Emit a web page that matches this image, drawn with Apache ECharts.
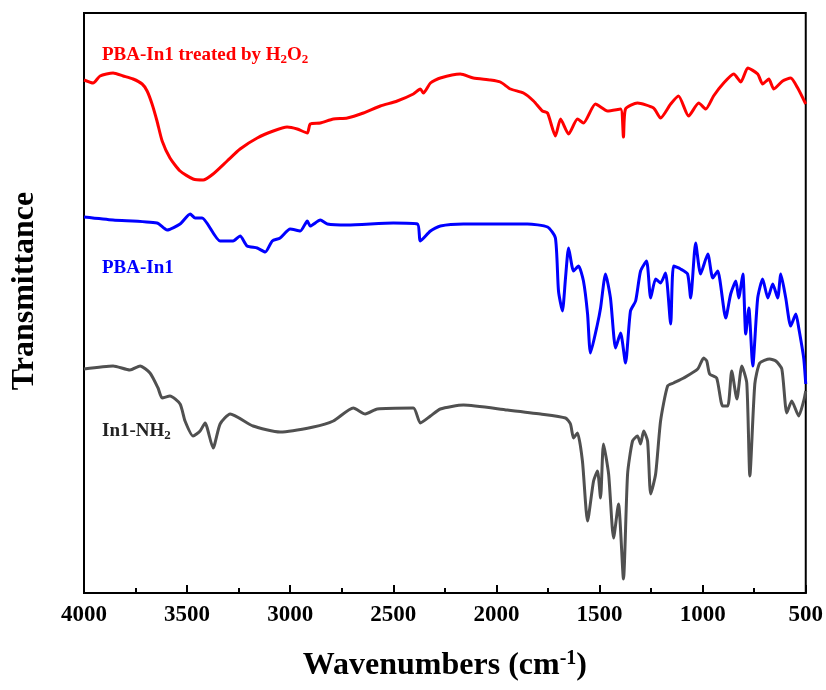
<!DOCTYPE html>
<html>
<head>
<meta charset="utf-8">
<script src="https://cdn.jsdelivr.net/npm/echarts@6/dist/echarts.min.js"></script>
<style>
html,body{margin:0;padding:0;background:#fff;}
#c{width:826px;height:690px;}
</style>
</head>
<body>
<div id="c"></div>
<script>
// Wavenumber ticks
var xTicks = [4000, 3500, 3000, 2500, 2000, 1500, 1000, 500];

// PBA-In1 treated by H2O2 (red)
var redWave = [4000,3956,3922,3859,3810,3762,3718,3694,3670,3646,3621,3583,3534,3471,3422,3374,3306,3243,3160,3082,3015,2966,2917,2903,2854,2791,2723,2645,2563,2481,2403,2369,2354,2320,2272,2175,2112,2029,1981,1932,1869,1820,1777,1752,1714,1689,1650,1607,1578,1520,1461,1398,1384,1374,1316,1238,1204,1155,1117,1068,1019,985,947,898,849,815,781,733,709,679,655,612,573,539,500];
var redT = [513,510,517,520,517,514,509,502,489,472,452,435,422,414,413,419,432,444,455,462,466,464,460,469,470,474,475,480,487,492,499,504,500,510,515,519,515,513,511,504,500,492,482,480,457,474,459,474,470,489,482,484,456,484,490,485,475,489,497,477,490,484,497,510,519,511,525,519,509,514,504,512,515,505,489];

// PBA-In1 (blue)
var blueWave = [4000,3859,3646,3597,3534,3485,3461,3427,3340,3277,3243,3209,3160,3121,3087,3049,3000,2951,2917,2903,2854,2820,2723,2500,2383,2369,2320,2272,2160,1995,1850,1752,1714,1699,1680,1665,1650,1626,1602,1578,1558,1544,1510,1495,1471,1447,1422,1398,1374,1350,1325,1301,1272,1252,1228,1204,1180,1155,1141,1107,1073,1058,1034,1010,975,951,927,888,864,839,825,805,791,776,757,733,709,684,660,636,621,597,573,548,534,510,500];
var blueT = [376,373,370,363,369,379,375,375,352,352,357,347,345,341,352,355,364,362,372,367,373,369,368,370,369,352,362,367,369,369,369,366,355,302,282,315,345,322,327,312,279,240,269,285,319,295,245,260,230,282,292,322,332,295,314,310,320,269,327,324,319,295,350,319,339,315,322,275,299,312,295,319,259,285,227,295,314,295,309,295,319,295,267,279,265,235,209];

// In1-NH2 (gray)
var grayWave = [4000,3859,3777,3728,3680,3641,3621,3583,3534,3510,3471,3437,3413,3374,3340,3291,3180,3049,2888,2791,2694,2636,2578,2403,2369,2320,2272,2160,1947,1786,1665,1641,1626,1607,1583,1558,1529,1510,1495,1481,1456,1432,1408,1384,1364,1340,1316,1301,1286,1267,1252,1228,1204,1170,1141,1092,1024,995,980,966,932,903,878,859,834,810,786,771,747,723,675,645,616,592,568,534,510,500];
var grayT = [224,227,223,227,220,205,195,197,189,172,157,162,170,145,169,179,167,161,166,172,185,179,184,185,170,177,184,188,183,179,175,169,155,160,132,72,112,122,95,149,119,55,89,14,119,152,157,149,162,152,99,119,172,207,210,215,224,235,232,219,215,187,187,222,194,227,210,117,209,230,234,232,224,180,192,177,192,202];

function pairs(w, t) { return w.map(function (v, i) { return [v, t[i]]; }); }

var serif = '"Liberation Serif","Times New Roman",serif';
var chart = echarts.init(document.getElementById('c'), null, {renderer: 'canvas'});

function lbl(color, top, parts) {
  return {
    text: parts, left: 97, top: top,
    textStyle: {
      rich: {
        a: {fontFamily: serif, fontWeight: 'bold', fontSize: 19, color: color, lineHeight: 24},
        s: {fontFamily: serif, fontWeight: 'bold', fontSize: 13, color: color, lineHeight: 24, padding: [9, 0, 0, 0]}
      }
    }
  };
}

chart.setOption({
  animation: false,
  backgroundColor: '#fff',
  title: [
    lbl('#ff0000', 38, '{a|PBA-In1 treated by H}{s|2}{a|O}{s|2}'),
    lbl('#0000ff', 251, '{a|PBA-In1}'),
    lbl('#222222', 414, '{a|In1-NH}{s|2}')
  ],
  grid: {left: 84, right: 20, top: 13, bottom: 97, show: true, borderColor: '#000', borderWidth: 2, backgroundColor: 'transparent'},
  xAxis: {
    type: 'value', min: 500, max: 4000, interval: 500, inverse: true,
    name: 'Wavenumbers (cm{sup|-1})', nameLocation: 'middle', nameGap: 56,
    nameTextStyle: {
      fontFamily: serif, fontWeight: 'bold', fontSize: 32, color: '#000',
      rich: {sup: {fontFamily: serif, fontWeight: 'bold', fontSize: 20, color: '#000', padding: [0, 0, 14, 0]}}
    },
    axisLine: {show: true, lineStyle: {color: '#000', width: 2}},
    axisTick: {show: true, inside: true, length: 8, lineStyle: {color: '#000', width: 2}},
    minorTick: {show: true, splitNumber: 2, length: 5, lineStyle: {color: '#000', width: 2}},
    axisLabel: {
      fontFamily: serif, fontWeight: 'bold', fontSize: 23, color: '#000', margin: 11,
      formatter: function (v) { return xTicks.indexOf(v) >= 0 ? String(v) : ''; }
    },
    splitLine: {show: false}
  },
  yAxis: {
    type: 'value', min: 0, max: 580,
    name: 'Transmittance', nameLocation: 'middle', nameGap: 43,
    nameTextStyle: {fontFamily: serif, fontWeight: 'bold', fontSize: 32, color: '#000', padding: [0, 0, 0, 24]},
    axisLine: {show: true, lineStyle: {color: '#000', width: 2}},
    axisTick: {show: false}, axisLabel: {show: false}, splitLine: {show: false}
  },
  series: [
    {name: 'PBA-In1 treated by H2O2', type: 'line', data: pairs(redWave, redT), showSymbol: false, lineStyle: {color: '#ff0000', width: 3}, smooth: 0.2},
    {name: 'PBA-In1', type: 'line', data: pairs(blueWave, blueT), showSymbol: false, lineStyle: {color: '#0000ff', width: 3}, smooth: 0.2},
    {name: 'In1-NH2', type: 'line', data: pairs(grayWave, grayT), showSymbol: false, lineStyle: {color: '#505050', width: 3}, smooth: 0.2}
  ]
});
</script>
</body>
</html>
